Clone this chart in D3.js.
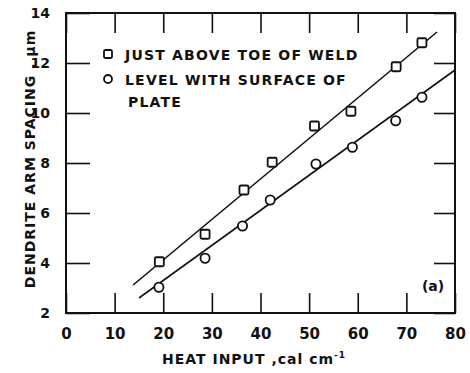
<!DOCTYPE html>
<html>
<head>
<meta charset="utf-8">
<script src="https://cdn.jsdelivr.net/npm/d3@7"></script>
<style>
  body { margin: 0; background: #fff; }
  text { font-family: "DejaVu Sans", sans-serif; font-weight: bold; fill: #111; }
</style>
</head>
<body>
<div id="chart"></div>
<script>
// data
var heatSquare = [19.2, 28.6, 36.6, 42.4, 51.1, 58.6, 67.9, 73.2];
var spacingSquare = [4.05, 5.15, 6.92, 8.03, 9.48, 10.07, 11.85, 12.81];
var heatCircle = [19.1, 28.6, 36.3, 42.0, 51.4, 58.9, 67.8, 73.2];
var spacingCircle = [3.03, 4.19, 5.48, 6.52, 7.96, 8.63, 9.69, 10.63];
// fitted lines, [heat input, spacing] at each end
var fitSquare = [[13.8, 3.12], [76.3, 13.24]];
var fitCircle = [[15.0, 2.6], [80, 11.72]];
var xTicks = [0, 10, 20, 30, 40, 50, 60, 70, 80];
var yTicks = [2, 4, 6, 8, 10, 12, 14];
var legendLabels = ["JUST ABOVE TOE OF WELD", "LEVEL WITH SURFACE OF", "PLATE"];

// set the dimensions and margins of the graph
var margin = {top: 13, right: 15, bottom: 60, left: 66},
    width = 470 - margin.left - margin.right,
    height = 373 - margin.top - margin.bottom;

// append the svg object to the body of the page
var svg = d3.select("#chart")
  .append("svg")
    .attr("width", width + margin.left + margin.right)
    .attr("height", height + margin.top + margin.bottom)
  .append("g")
    .attr("transform", "translate(" + margin.left + "," + margin.top + ")");

var x = d3.scaleLinear().domain([0, 80]).range([0, width]);
var y = d3.scaleLinear().domain([2, 14]).range([height, 0]);

// axes, ticks pointing into the plot
var xAxis = svg.append("g")
  .attr("transform", "translate(0," + height + ")")
  .call(d3.axisBottom(x).tickValues(xTicks).tickSizeInner(-20).tickSizeOuter(0).tickPadding(15));
xAxis.selectAll("text").style("font-size", "15px");

svg.append("g")
  .call(d3.axisTop(x).tickValues(xTicks).tickSizeInner(-20).tickSizeOuter(0).tickFormat(""));

var yAxis = svg.append("g")
  .call(d3.axisLeft(y).tickValues(yTicks).tickSizeInner(-24).tickSizeOuter(0).tickPadding(16));
yAxis.selectAll("text").style("font-size", "14px");

svg.append("g")
  .attr("transform", "translate(" + width + ",0)")
  .call(d3.axisRight(y).tickValues(yTicks).tickSizeInner(-21).tickSizeOuter(0).tickFormat(""));

svg.selectAll(".tick line").attr("stroke", "#111").attr("stroke-width", 1.6);
svg.selectAll(".domain").remove();

// frame
svg.append("rect")
  .attr("width", width)
  .attr("height", height)
  .attr("fill", "none")
  .attr("stroke", "#111")
  .attr("stroke-width", 2);

// fitted lines
var line = d3.line()
  .x(function(d) { return x(d[0]); })
  .y(function(d) { return y(d[1]); });

svg.append("path").datum(fitSquare)
  .attr("d", line).attr("fill", "none").attr("stroke", "#111").attr("stroke-width", 1.6);
svg.append("path").datum(fitCircle)
  .attr("d", line).attr("fill", "none").attr("stroke", "#111").attr("stroke-width", 1.6);

// square points
svg.selectAll(".sq")
  .data(d3.range(heatSquare.length))
  .enter()
  .append("rect")
    .attr("class", "sq")
    .attr("x", function(i) { return x(heatSquare[i]) - 4.5; })
    .attr("y", function(i) { return y(spacingSquare[i]) - 4.5; })
    .attr("width", 9)
    .attr("height", 9)
    .attr("rx", 1.5)
    .attr("fill", "#fff")
    .attr("stroke", "#111")
    .attr("stroke-width", 1.8);

// circle points
svg.selectAll(".ci")
  .data(d3.range(heatCircle.length))
  .enter()
  .append("circle")
    .attr("class", "ci")
    .attr("cx", function(i) { return x(heatCircle[i]); })
    .attr("cy", function(i) { return y(spacingCircle[i]); })
    .attr("r", 4.6)
    .attr("fill", "#fff")
    .attr("stroke", "#111")
    .attr("stroke-width", 1.8);

// legend
var legend = svg.append("g").attr("transform", "translate(42,41)");
legend.append("rect")
  .attr("x", -4).attr("y", -4).attr("width", 8).attr("height", 8).attr("rx", 1.5)
  .attr("fill", "#fff").attr("stroke", "#111").attr("stroke-width", 1.8);
legend.append("circle")
  .attr("cx", 0).attr("cy", 25).attr("r", 4)
  .attr("fill", "#fff").attr("stroke", "#111").attr("stroke-width", 1.8);
legend.selectAll(".lab")
  .data(legendLabels)
  .enter()
  .append("text")
    .attr("class", "lab")
    .attr("x", function(d, i) { return i == 2 ? 20 : 17; })
    .attr("y", function(d, i) { return i * 22 + (i == 0 ? 0 : 3) + 5.5; })
    .style("font-size", "14px")
    .style("letter-spacing", "1.2px")
    .text(function(d) { return d; });

// panel tag
svg.append("text")
  .attr("x", 367).attr("y", 278)
  .attr("text-anchor", "middle")
  .style("font-size", "14px")
  .text("(a)");

// axis titles
svg.append("text")
  .attr("x", 188).attr("y", height + 51)
  .attr("text-anchor", "middle")
  .style("font-size", "14px")
  .style("letter-spacing", "1px")
  .text("HEAT INPUT ,cal cm")
  .append("tspan")
    .attr("dy", -6)
    .style("font-size", "9px")
    .text("-1");

svg.append("text")
  .attr("transform", "translate(-31," + (height / 2 - 4) + ") rotate(-90)")
  .attr("text-anchor", "middle")
  .style("font-size", "14px")
  .style("letter-spacing", "1px")
  .text("DENDRITE ARM SPACING , \u03bcm");
</script>
</body>
</html>
